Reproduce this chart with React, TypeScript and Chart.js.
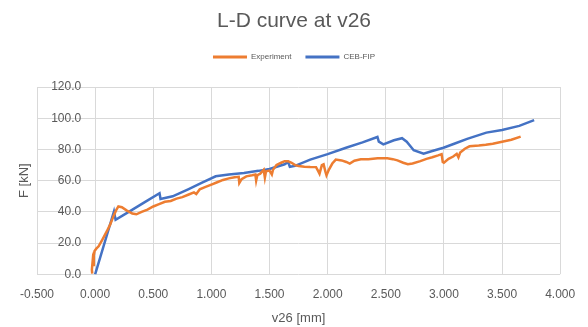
import React, { useEffect, useRef } from "react";
import { Chart, registerables } from "chart.js";

Chart.register(...registerables);

const expX = [-0.025, -0.028, -0.022, -0.018, -0.012, -0.005, 0.01, 0.03, 0.06, 0.1, 0.13, 0.156, 0.18, 0.2, 0.23, 0.27, 0.32, 0.355, 0.4, 0.45, 0.5, 0.55, 0.6, 0.65, 0.7, 0.75, 0.8, 0.85, 0.87, 0.9, 0.95, 1.0, 1.05, 1.1, 1.15, 1.2, 1.235, 1.24, 1.26, 1.3, 1.35, 1.378, 1.385, 1.395, 1.42, 1.45, 1.46, 1.47, 1.5, 1.52, 1.53, 1.56, 1.6, 1.63, 1.66, 1.69, 1.72, 1.75, 1.8, 1.85, 1.9, 1.92, 1.93, 1.95, 1.965, 1.98, 1.99, 2.01, 2.04, 2.07, 2.12, 2.16, 2.19, 2.23, 2.285, 2.35, 2.43, 2.513, 2.56, 2.6, 2.65, 2.69, 2.73, 2.797, 2.85, 2.9, 2.95, 2.98, 2.99, 3.0, 3.04, 3.08, 3.11, 3.125, 3.14, 3.18, 3.22, 3.3, 3.36, 3.42, 3.5, 3.58, 3.66];
const expY = [0.5, 3, 8, 6, 12, 15, 16.5, 18, 22, 27.5, 32, 37, 41, 43.5, 43, 41, 39, 38.5, 40, 41.5, 43.5, 45, 46.5, 47, 48.5, 49.5, 51, 52.5, 51.5, 54.5, 56, 57.5, 59, 60.5, 61.5, 62.2, 62.5, 58.5, 61, 62.8, 63.5, 64, 60, 63.5, 64.5, 67, 62, 66, 66.5, 64, 67, 70, 71.5, 72.5, 72.5, 71.5, 70, 69.4, 69, 68.8, 68.7, 66, 64.5, 70, 70.5, 66, 63.5, 67, 71, 73.5, 73, 72, 71, 72.8, 73.7, 73.8, 74.4, 74.3, 73.8, 73, 71.5, 70.5, 71, 72.5, 74, 75, 76.2, 77, 72, 71.5, 74, 75.5, 77.2, 75, 78, 80.5, 82, 82.5, 83, 83.7, 85, 86.2, 88.2];

const cebX = [0, 0.162, 0.176, 0.3, 0.42, 0.554, 0.5625, 0.667, 0.8, 0.92, 1.037, 1.15, 1.28, 1.406, 1.5, 1.63, 1.66, 1.675, 1.72, 1.85, 2.0, 2.158, 2.3, 2.428, 2.44, 2.479, 2.57, 2.64, 2.68, 2.74, 2.825, 2.9, 2.996, 3.1, 3.2, 3.365, 3.5, 3.648, 3.776];
const cebY = [0, 40.3, 35, 40.5, 46, 52, 48.3, 50, 54.5, 58.8, 62.8, 64, 65, 66.3, 67.5, 70.5, 72, 68.9, 69.5, 73.5, 77, 81.1, 84.5, 88, 85, 83.3, 85.9, 87.2, 85, 79.5, 77.3, 79, 81.1, 84, 86.8, 90.8, 92.5, 95.1, 98.8];

const seriesNames = ["Experiment", "CEB-FIP"];
const xRange = [-0.5, 4.0];
const yRange = [0, 120];

const FONT = "'Liberation Sans', Arial, sans-serif";
const GREY = "#595959";

const spacerAxis = (position: string, pad: number) => ({
  type: "linear",
  position,
  min: 0,
  max: 1,
  ticks: { display: false },
  grid: { display: false, drawTicks: false },
  border: { display: false },
  title: {
    display: true,
    text: " ",
    font: { size: 1 },
    padding: { top: pad, bottom: 0 },
  },
});

export default function App() {
  const ref = useRef<HTMLCanvasElement>(null);
  useEffect(() => {
    const ctx = ref.current!;
    const chart = new Chart(ctx, {
      type: "scatter",
      data: {
        datasets: [
          {
            label: seriesNames[0],
            data: expX.map((x, i) => ({ x, y: expY[i] })),
            xAxisID: "x",
            yAxisID: "y",
            borderColor: "#ED7D31",
            backgroundColor: "#ED7D31",
            showLine: true,
            pointRadius: 0,
            borderWidth: 2.5,
            tension: 0,
          },
          {
            label: seriesNames[1],
            data: cebX.map((x, i) => ({ x, y: cebY[i] })),
            xAxisID: "x",
            yAxisID: "y",
            borderColor: "#4472C4",
            backgroundColor: "#4472C4",
            showLine: true,
            pointRadius: 0,
            borderWidth: 2.5,
            tension: 0,
          },
        ],
      },
      options: {
        animation: false,
        responsive: false,
        maintainAspectRatio: false,
        layout: { padding: 0 },
        plugins: {
          title: {
            display: true,
            text: "L-D curve at v26",
            color: GREY,
            font: { family: FONT, size: 21, weight: "normal" },
            padding: { top: 8.4, bottom: 5.4 },
          },
          legend: {
            display: true,
            labels: {
              boxWidth: 34,
              boxHeight: 3,
              color: GREY,
              font: { family: FONT, size: 8 },
              padding: 14,
              generateLabels: (c: any) =>
                Chart.defaults.plugins.legend.labels
                  .generateLabels(c)
                  .map((l: any) => ({ ...l, lineWidth: 0 })),
            },
          },
          tooltip: { enabled: false },
        },
        scales: {
          x: {
            type: "linear",
            min: xRange[0],
            max: xRange[1],
            ticks: {
              stepSize: 0.5,
              color: GREY,
              font: { family: FONT, size: 12 },
              callback: (v: any) => Number(v).toFixed(3),
              maxRotation: 0,
              padding: 12.8,
            },
            grid: { color: "#d9d9d9", drawTicks: false },
            border: { display: false },
            title: {
              display: true,
              text: "v26 [mm]",
              color: GREY,
              font: { family: FONT, size: 13 },
              padding: { top: -4, bottom: 1 },
            },
          },
          xTop: spacerAxis("top", 14.8) as any,
          yRight: spacerAxis("right", 17.8) as any,
          y: {
            type: "linear",
            position: { x: -0.12 } as any,
            min: yRange[0],
            max: yRange[1],
            ticks: {
              stepSize: 20,
              color: GREY,
              font: { family: FONT, size: 12 },
              callback: (v: any) => Number(v).toFixed(1),
            },
            grid: { color: "#d9d9d9", drawTicks: false },
            border: { display: false },
          },
          yTitle: {
            type: "linear",
            position: "left",
            min: yRange[0],
            max: yRange[1],
            ticks: { display: false },
            grid: { display: false, drawTicks: false },
            border: { display: false },
            title: {
              display: true,
              text: "F [kN]",
              color: GREY,
              font: { family: FONT, size: 13 },
              padding: { top: 17, bottom: 4.4 },
            },
          },
        },
      },
    });
    return () => chart.destroy();
  }, []);
  return (
    <div style={{ position: "fixed", left: 0, top: 0, width: 588, height: 327, background: "#fff" }}>
      <canvas ref={ref} width={588} height={327} style={{ width: 588, height: 327 }} />
    </div>
  );
}
